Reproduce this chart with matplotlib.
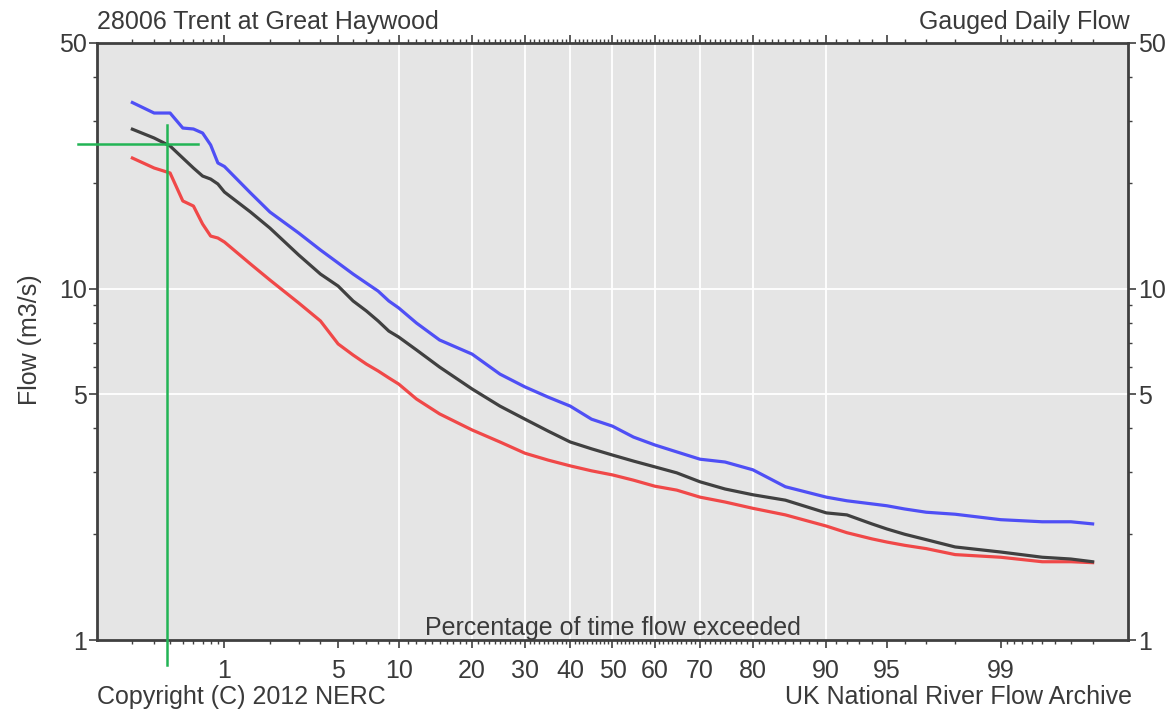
import numpy as np
import matplotlib
matplotlib.use("Agg")
import matplotlib.pyplot as plt
from matplotlib.ticker import FixedLocator, FixedFormatter, NullFormatter
from statistics import NormalDist

# ---------------- data ----------------
pct = [0.2, 0.3, 0.4, 0.5, 0.6, 0.7, 0.8, 0.9, 1, 1.5, 2, 3, 4, 5, 6, 7, 8, 9, 10,
       12, 15, 20, 25, 30, 35, 40, 45, 50, 55, 60, 65, 70, 75, 80, 85, 90, 92, 94,
       95, 96, 97, 98, 99, 99.5, 99.7, 99.8]

flow_blue = [33.85, 31.6, 31.6, 28.64, 28.46, 27.72, 25.63, 22.78, 22.26, 18.72, 16.52,
             14.39, 12.88, 11.83, 11.00, 10.37, 9.84, 9.22, 8.81, 7.98, 7.14, 6.51, 5.71,
             5.25, 4.91, 4.63, 4.25, 4.06, 3.78, 3.59, 3.43, 3.27, 3.21, 3.05, 2.73, 2.55,
             2.49, 2.44, 2.41, 2.36, 2.31, 2.28, 2.20, 2.17, 2.17, 2.14]

flow_black = [28.42, 26.83, 25.46, 23.53, 22.04, 20.91, 20.50, 19.85, 18.83, 16.52, 14.87,
              12.46, 11.00, 10.17, 9.22, 8.64, 8.09, 7.57, 7.28, 6.69, 5.98, 5.18, 4.63,
              4.25, 3.93, 3.66, 3.50, 3.36, 3.23, 3.11, 2.99, 2.82, 2.69, 2.59, 2.50, 2.30,
              2.27, 2.14, 2.07, 2.00, 1.93, 1.84, 1.78, 1.72, 1.70, 1.67]

flow_red = [23.53, 22.04, 21.33, 17.76, 17.18, 15.27, 14.11, 13.93, 13.57, 11.75, 10.58,
            9.10, 8.09, 6.96, 6.47, 6.10, 5.83, 5.57, 5.35, 4.85, 4.40, 3.96, 3.66, 3.40,
            3.25, 3.13, 3.03, 2.95, 2.85, 2.74, 2.67, 2.55, 2.47, 2.37, 2.27, 2.11, 2.02,
            1.94, 1.90, 1.86, 1.82, 1.75, 1.72, 1.67, 1.67, 1.66]

# green marker crosshair (percentage, flow)
marker_pct = 0.378
marker_flow = 25.8
marker_h_span = [0.068, 0.648]     # percentage extent of horizontal line
marker_v_span = [0.849, 29.2]      # flow extent of vertical line

x_major = [1, 5, 10, 20, 30, 40, 50, 60, 70, 80, 90, 95, 99]
x_grid = [10, 20, 30, 40, 50, 60, 70, 80, 90]
x_minor = ([0.2, 0.3, 0.4, 0.5, 0.6, 0.7, 0.8, 0.9] + list(range(2, 10)) +
           [v for v in range(11, 90) if v % 10 != 0] + [91, 92, 93, 94, 96, 97, 98] +
           [99.1, 99.2, 99.3, 99.4, 99.5, 99.6, 99.7, 99.8])
y_major = [1, 5, 10, 50]
y_minor = [2, 3, 4, 6, 7, 8, 9, 20, 30, 40]
y_grid = [5, 10]

# ---------------- probability scale ----------------
_nd = NormalDist()
_ppf = np.vectorize(lambda q: _nd.inv_cdf(q) if np.isfinite(q) else np.nan, otypes=[float])
_cdf = np.vectorize(lambda z: _nd.cdf(z) if np.isfinite(z) else np.nan, otypes=[float])


def fwd(p):
    p = np.asarray(p, dtype=float)
    return _ppf(np.clip(p / 100.0, 1e-9, 1 - 1e-9))


def inv(z):
    z = np.asarray(z, dtype=float)
    return 100.0 * _cdf(z)


plt.rcParams["font.family"] = ["Liberation Sans", "DejaVu Sans"]
TXT = "#3a3a3a"
FS = 18

W, H = 1174, 714
fig = plt.figure(figsize=(W / 100, H / 100), dpi=100)
fig.patch.set_facecolor("white")
ax = fig.add_axes([97 / W, 1 - 640 / H, (1128 - 97) / W, (640 - 43) / H])
ax.set_facecolor("#e5e5e5")
ax.set_xscale("function", functions=(fwd, inv))
ax.set_yscale("log")
ax.set_xlim(0.1, 99.9)
ax.set_ylim(1, 50)

for g in x_grid:
    ax.axvline(g, color="white", lw=1.3, zorder=1)
for g in y_grid:
    ax.axhline(g, color="white", lw=1.3, zorder=1)

ax.plot(pct, flow_blue, color="#4f4ff5", lw=2.3, zorder=3)
ax.plot(pct, flow_red, color="#f04848", lw=2.3, zorder=3)
ax.plot(pct, flow_black, color="#404040", lw=2.3, zorder=4)

ax.plot(marker_h_span, [marker_flow, marker_flow], color="#22b455", lw=1.8,
        zorder=5, clip_on=False)
ax.plot([marker_pct, marker_pct], marker_v_span, color="#22b455", lw=1.8,
        zorder=5, clip_on=False)

# ticks
ax.xaxis.set_major_locator(FixedLocator(x_major))
ax.xaxis.set_major_formatter(FixedFormatter([str(v) for v in x_major]))
ax.xaxis.set_minor_locator(FixedLocator(x_minor))
ax.xaxis.set_minor_formatter(NullFormatter())
ax.yaxis.set_major_locator(FixedLocator(y_major))
ax.yaxis.set_major_formatter(FixedFormatter([str(v) for v in y_major]))
ax.yaxis.set_minor_locator(FixedLocator(y_minor))
ax.yaxis.set_minor_formatter(NullFormatter())

ax.tick_params(axis="x", which="both", top=True, bottom=True, direction="out",
               colors="#404040", labelcolor=TXT, labelsize=FS)
ax.tick_params(axis="x", which="major", length=6, width=1.2, pad=8)
ax.tick_params(axis="x", which="minor", length=3, width=1.0)
ax.tick_params(axis="y", which="both", left=True, right=True, labelleft=True,
               labelright=True, direction="out", colors="#404040", labelcolor=TXT,
               labelsize=FS)
ax.tick_params(axis="y", which="major", length=6, width=1.2, pad=1)
ax.tick_params(axis="y", which="minor", length=3, width=1.0)

for s in ax.spines.values():
    s.set_color("#404040")
    s.set_linewidth(2.0)

# texts
fig.text(97 / W, 1 - 22 / H, "28006 Trent at Great Haywood", ha="left", va="center",
         fontsize=FS, color=TXT)
fig.text(1130 / W, 1 - 22 / H, "Gauged Daily Flow", ha="right", va="center",
         fontsize=FS, color=TXT)
fig.text(30 / W, 1 - 340 / H, "Flow (m3/s)", ha="center", va="center", rotation=90,
         fontsize=FS, color=TXT)
fig.text(613 / W, 1 - 628 / H, "Percentage of time flow exceeded", ha="center",
         va="center", fontsize=FS, color=TXT)
fig.text(97 / W, 1 - 697 / H, "Copyright (C) 2012 NERC", ha="left", va="center",
         fontsize=FS, color=TXT)
fig.text(1132 / W, 1 - 697 / H, "UK National River Flow Archive", ha="right",
         va="center", fontsize=FS, color=TXT)

fig.savefig("out.png", dpi=100)
